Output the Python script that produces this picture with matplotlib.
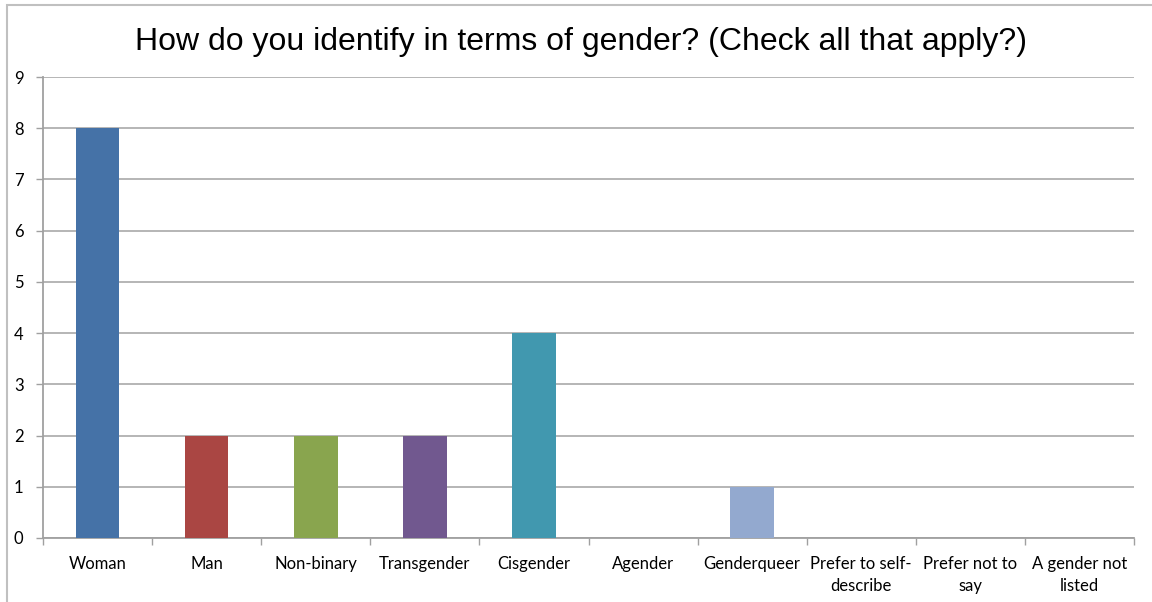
import matplotlib
matplotlib.use("Agg")
import matplotlib.pyplot as plt
from matplotlib.patches import Rectangle

categories = ["Woman", "Man", "Non-binary", "Transgender", "Cisgender", "Agender",
              "Genderqueer", "Prefer to self-\ndescribe", "Prefer not to\nsay", "A gender not\nlisted"]
values = [8, 2, 2, 2, 4, 0, 1, 0, 0, 0]
colors = ["#4572A7", "#AA4643", "#89A54E", "#71588F", "#4198AF", "#DB843D",
          "#93A9CF", "#D19392", "#B9CD96", "#A99BBD"]
yticks = list(range(0, 10))
title = "How do you identify in terms of gender? (Check all that apply?)"

fig = plt.figure(figsize=(11.52, 6.02), dpi=100)
ax = fig.add_axes([43/1152, 1-538/602, (1134-43)/1152, (538-77)/602])

x = list(range(len(categories)))
ax.bar(x, values, width=0.4, color=colors, zorder=3)
ax.set_xlim(-0.5, len(categories)-0.5)
ax.set_ylim(0, 9)
ax.set_yticks(yticks)
ax.set_yticklabels([str(v) for v in yticks], fontfamily="Lato", fontsize=12)
ax.set_xticks(x)
ax.set_xticklabels(categories, fontfamily="Lato", fontsize=12, linespacing=1.45)
ax.set_xticks([i - 0.5 for i in range(len(categories)+1)], minor=True)
ax.tick_params(axis="x", which="major", length=0, pad=13)
ax.tick_params(axis="x", which="minor", length=5, color="#A0A0A0", width=1)
ax.tick_params(axis="y", length=5, color="#A0A0A0", width=1, pad=9)
ax.grid(axis="y", color="#B0B0B0", linewidth=1.3, zorder=0)
for s in ["top", "right"]:
    ax.spines[s].set_visible(False)
for s in ["left", "bottom"]:
    ax.spines[s].set_color("#A0A0A0")
    ax.spines[s].set_linewidth(1.3)

fig.text(581/1152, 1-42/602, title, ha="center", va="center", fontsize=23,
         fontfamily="Liberation Sans")

fig.patches.append(Rectangle((7/1152, -0.1), 1.2, 1.1 - 5/602, transform=fig.transFigure,
                             fill=False, edgecolor="#C0C0C0", linewidth=1.5))

fig.savefig("out.png", dpi=100)
